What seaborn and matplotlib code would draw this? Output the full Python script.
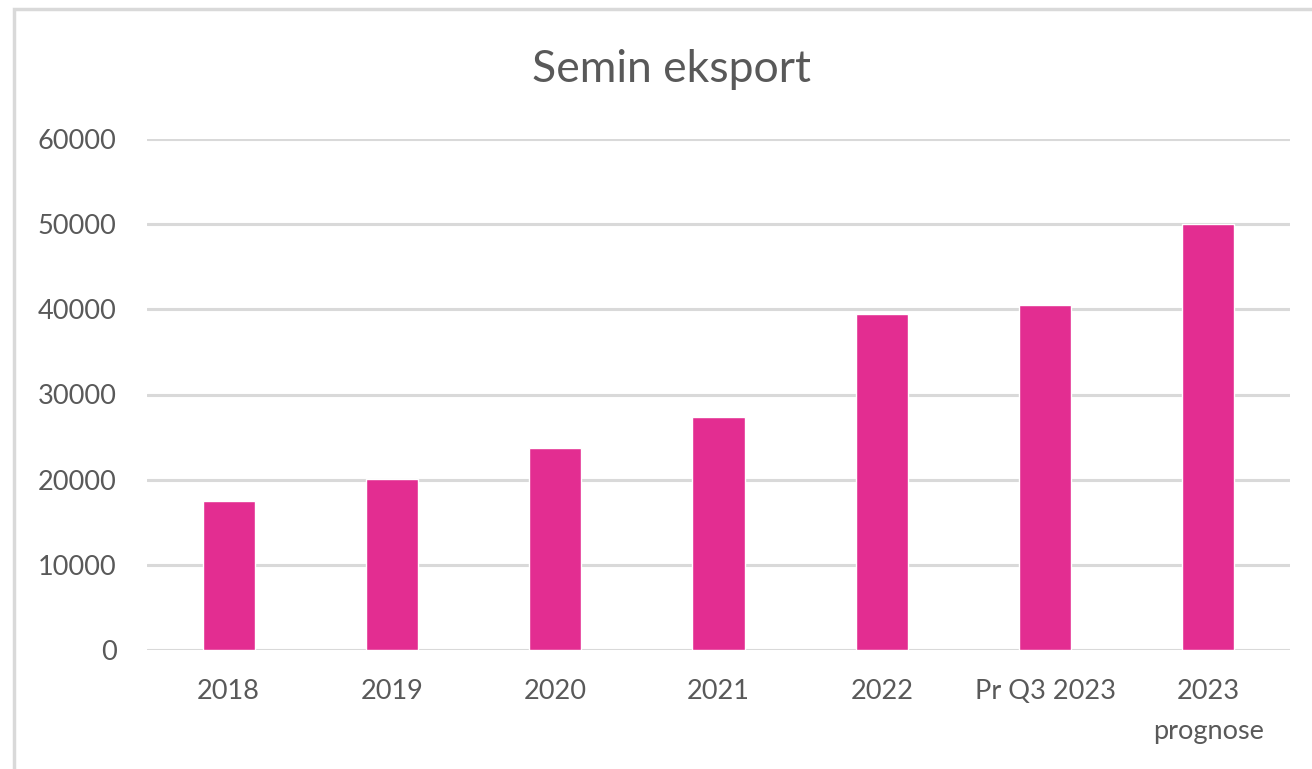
import matplotlib
matplotlib.use("Agg")
import matplotlib.pyplot as plt
import seaborn as sns
import pandas as pd
from matplotlib.patches import Rectangle

# data
categories = ["2018", "2019", "2020", "2021", "2022", "Pr Q3 2023", "2023\nprognose"]
export = [17500, 20100, 23700, 27400, 39500, 40500, 50000]
yticks = [0, 10000, 20000, 30000, 40000, 50000, 60000]

df = pd.DataFrame({"kategori": categories, "eksport": export})

sns.set_style("white")
plt.rcParams["font.family"] = ["Lato", "DejaVu Sans"]

text_col = "#595959"
grid_col = "#D9D9D9"

fig = plt.figure(figsize=(13.12, 7.69), dpi=100)
ax = fig.add_axes([147/1312, 1-650/769, (1290-147)/1312, (650-139)/769])

sns.barplot(data=df, x="kategori", y="eksport", color="#E32D91", width=0.32,
            saturation=1, ax=ax, zorder=3)

ax.set_ylim(0, 60000)
ax.set_xlim(-0.5, len(categories) - 0.5)
ax.set_yticks(yticks)
ax.set_yticklabels([str(v) for v in yticks])
ax.yaxis.grid(True, color=grid_col, linewidth=2.2, zorder=0)
ax.set_axisbelow(True)
for s in ax.spines.values():
    s.set_visible(False)
ax.tick_params(axis="y", length=0, pad=22, labelsize=19.5, labelcolor=text_col)
ax.tick_params(axis="x", length=0, pad=21, labelsize=19.5, labelcolor=text_col)
for lbl in ax.get_xticklabels():
    lbl.set_linespacing(1.75)
ax.set_xlabel("")
ax.set_ylabel("")

fig.text(672/1312, 1-70/769, "Semin eksport", ha="center", va="center",
         fontsize=32, color=text_col)

# outer chart frame (cut off on right and bottom)
fig.patches.append(Rectangle((14/1312, -0.1), 1.2, 1 - 9/769 + 0.1,
                             transform=fig.transFigure, fill=False,
                             edgecolor=grid_col, linewidth=2.5))

plt.savefig("out.png", dpi=100)
plt.close()
